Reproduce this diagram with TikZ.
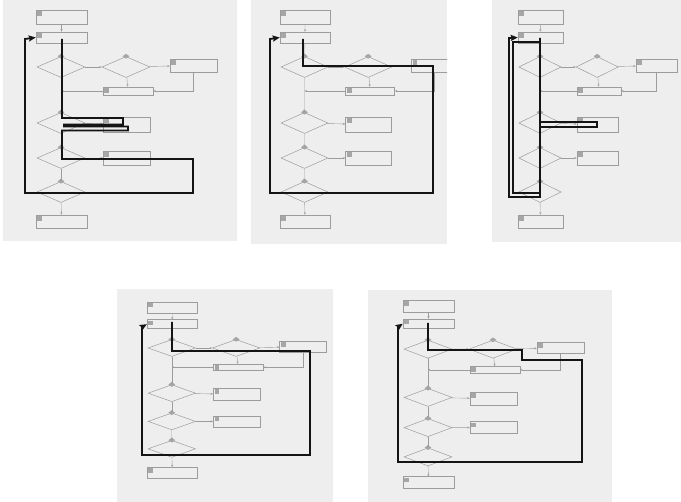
\documentclass[tikz,border=0pt]{standalone}
\usepackage{tikz}
\usetikzlibrary{arrows.meta,shapes.geometric,calc}
\definecolor{paper}{HTML}{EEEEEE}
\definecolor{chartgray}{HTML}{9C9C9C}
\definecolor{markgray}{HTML}{A6A6A6}
\definecolor{ink}{HTML}{141414}
\tikzset{
  flowbox/.style={draw=chartgray,line width=0.5pt,inner sep=0pt,
                  transform shape},
  decision/.style={diamond,draw=chartgray,line width=0.5pt,inner sep=0pt,
                   minimum width=48pt,minimum height=21pt,transform shape},
  boxmark/.style={fill=markgray,inner sep=0pt,minimum size=4.5pt,
                  anchor=north west},
  diamark/.style={diamond,fill=markgray,inner sep=0pt,
                  minimum width=7pt,minimum height=5pt},
  thinarr/.style={-{Stealth[length=2.5pt,width=2pt]},draw=chartgray,
                  line width=0.4pt},
  trail/.style={draw=ink,line width=1.8pt,line join=miter,
                -{Stealth[length=7pt,width=6pt,inset=1pt]}}
}
% one copy of the flowchart, named by prefix #1
\newcommand{\flowchart}[1]{
  \node[flowbox,minimum width=51pt,minimum height=14pt] (#1b1) at (61.5,17) {};
  \node[flowbox,minimum width=51pt,minimum height=11pt] (#1b2) at (61.5,37.5) {};
  \node[decision] (#1d1) at (61,67) {};
  \node[decision] (#1d2) at (126,67) {};
  \node[flowbox,minimum width=47pt,minimum height=13pt] (#1b3) at (193.5,65.5) {};
  \node[flowbox,minimum width=50pt,minimum height=8pt] (#1b4) at (128,91) {};
  \node[decision] (#1d3) at (61,123) {};
  \node[flowbox,minimum width=47pt,minimum height=15pt] (#1b5) at (126.5,124.5) {};
  \node[decision] (#1d4) at (61,158) {};
  \node[flowbox,minimum width=47pt,minimum height=14pt] (#1b6) at (126.5,158) {};
  \node[decision] (#1d5) at (61,192) {};
  \node[flowbox,minimum width=51pt,minimum height=13pt] (#1b7) at (61.5,221.5) {};
  % grey marks
  \foreach \b in {b1,b2,b3,b4,b5,b6,b7}
    \node[boxmark] at ([shift={(1.5pt,-1.2pt)}]#1\b.north west) {};
  \foreach \d in {d1,d2,d3,d4,d5}
    \node[diamark] at (#1\d.north) {};
  % connectors
  \draw[thinarr] (#1b1) -- (#1b2);
  \draw[thinarr] (#1b2) -- (#1d1);
  \draw[thinarr] (#1d1) -- (#1d2);
  \draw[thinarr] (#1d2) -- (#1b3);
  \draw[thinarr] (#1d2) -- (#1b4);
  \draw[thinarr] (#1b3.south) |- (#1b4.east);
  \draw[thinarr] (#1b4.west) -- (#1b4.west -| #1d1.south);
  \draw[thinarr] (#1d1) -- (#1d3);
  \draw[thinarr] (#1d3) -- (#1b5);
  \draw[thinarr] (#1d3) -- (#1d4);
  \draw[thinarr] (#1d4) -- (#1b6);
  \draw[thinarr] (#1d4) -- (#1d5);
  \draw[thinarr] (#1d5) -- (#1b7);
}
% panel: prefix, left, top, right, bottom, shift x, shift y, xscale, yscale
\newcommand{\panel}[9]{
  \fill[paper] (#2,#3) rectangle (#4,#5);
  \begin{scope}
    \clip (#2,#3) rectangle (#4,#5);
    \begin{scope}[shift={(#6,#7)},xscale=#8,yscale=#9]
      \flowchart{#1}
    \end{scope}
  \end{scope}
}

\begin{document}
\begin{tikzpicture}[x=1pt,y=-1pt]
\useasboundingbox (0,0) rectangle (681,502);

\panel{p}{3}{0}{237}{241}{0}{0}{1}{1}
\panel{q}{251}{0}{447}{244}{244.7}{0}{0.98}{1}
\panel{r}{492}{0}{681}{242}{486.3}{0}{0.88}{1}
\panel{s}{117}{289}{333}{502}{111.4}{293.9}{0.99}{0.807}
\panel{t}{368}{290}{612}{502}{367}{291.4}{1}{0.862}

% thick trails
\draw[trail] (62,39) -- (62,118) -- (123,118) -- (123,124.5) -- (64,124.5)
  -- (64,126.5) -- (128,126.5) -- (128,130.5) -- (62,130.5) -- (62,159)
  -- (193,159) -- (193,193) -- (25,193) -- (25,39) -- (pb2.west);
\draw[trail] (303,39) -- (303,66) -- (433,66) -- (433,193) -- (270,193)
  -- (270,39) -- (qb2.west);
\draw[trail] (540,38) -- (540,122) -- (597,122) -- (597,127) -- (540,127)
  -- (540,193) -- (513,193) -- (513,42) -- (540,42) -- (540,197)
  -- (509,197) -- (509,38) -- (rb2.west);
\draw[trail] (172,322) -- (172,351) -- (310,351) -- (310,455) -- (142,455)
  -- (142,327) -- (sb2.west);
\draw[trail] (428,323) -- (428,350) -- (522,350) -- (522,360) -- (582,360)
  -- (582,462) -- (398,462) -- (398,327) -- (tb2.west);
\end{tikzpicture}
\end{document}
